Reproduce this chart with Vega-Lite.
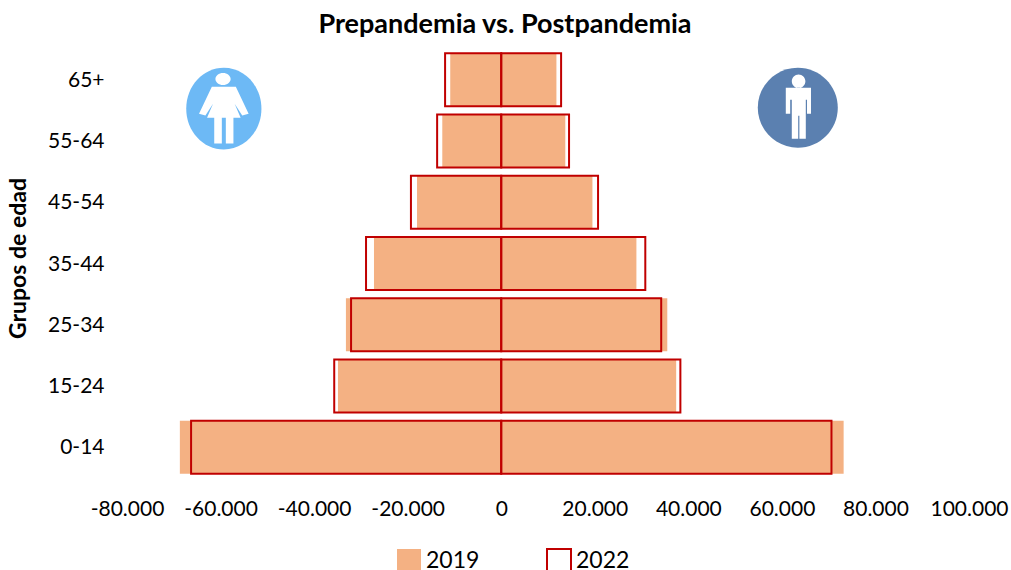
{"$schema":"https://vega.github.io/schema/vega-lite/v6.json","width":842,"height":429,"autosize":{"type":"none"},"padding":{"left":127,"top":49,"right":42,"bottom":92},"background":"white","config":{"view":{"stroke":null},"font":"Lato"},"title":{"text":"Prepandemia vs. Postpandemia","font":"Lato","fontSize":27,"fontWeight":"bold","color":"#000000","anchor":"middle","dx":-43,"offset":10},"layer":[{"data":{"values":[{"grupo":"0-14","anio":"2019","valor":-68700},{"grupo":"0-14","anio":"2019","valor":73200},{"grupo":"15-24","anio":"2019","valor":-34900},{"grupo":"15-24","anio":"2019","valor":37400},{"grupo":"25-34","anio":"2019","valor":-33200},{"grupo":"25-34","anio":"2019","valor":35500},{"grupo":"35-44","anio":"2019","valor":-27200},{"grupo":"35-44","anio":"2019","valor":28900},{"grupo":"45-54","anio":"2019","valor":-18000},{"grupo":"45-54","anio":"2019","valor":19500},{"grupo":"55-64","anio":"2019","valor":-12600},{"grupo":"55-64","anio":"2019","valor":13700},{"grupo":"65+","anio":"2019","valor":-10900},{"grupo":"65+","anio":"2019","valor":11800},{"grupo":"0-14","anio":"2022","valor":-66300},{"grupo":"0-14","anio":"2022","valor":70600},{"grupo":"15-24","anio":"2022","valor":-35700},{"grupo":"15-24","anio":"2022","valor":38300},{"grupo":"25-34","anio":"2022","valor":-32100},{"grupo":"25-34","anio":"2022","valor":34200},{"grupo":"35-44","anio":"2022","valor":-28900},{"grupo":"35-44","anio":"2022","valor":30800},{"grupo":"45-54","anio":"2022","valor":-19300},{"grupo":"45-54","anio":"2022","valor":20700},{"grupo":"55-64","anio":"2022","valor":-13700},{"grupo":"55-64","anio":"2022","valor":14500},{"grupo":"65+","anio":"2022","valor":-12000},{"grupo":"65+","anio":"2022","valor":12800}]},"mark":{"type":"bar","strokeWidth":2},"encoding":{"x":{"field":"valor","type":"quantitative","stack":null,"scale":{"domain":[-80000,100000],"nice":false,"zero":false},"axis":{"title":null,"values":[-80000,-60000,-40000,-20000,0,20000,40000,60000,80000,100000],"labelExpr":"replace(replace(format(datum.value,','),',','.'),'−','-')","grid":false,"domain":false,"ticks":false,"labelFont":"Lato","labelFontSize":21,"labelColor":"#000000","labelPadding":20,"labelFlush":false,"labelOverlap":false}},"y":{"field":"grupo","type":"nominal","sort":["65+","55-64","45-54","35-44","25-34","15-24","0-14"],"scale":{"domain":["65+","55-64","45-54","35-44","25-34","15-24","0-14"],"paddingInner":0.135,"paddingOuter":0.0675},"axis":{"title":"Grupos de edad","titleFont":"Lato","titleFontSize":23,"titleFontWeight":"bold","titleColor":"#000000","titleX":-97,"titleY":209,"grid":false,"domain":false,"ticks":false,"labelFont":"Lato","labelFontSize":21,"labelColor":"#000000","labelPadding":23,"labelOffset":1}},"fill":{"field":"anio","type":"nominal","scale":{"domain":["2019","2022"],"range":["#F4B183","transparent"]},"legend":{"title":null,"orient":"none","direction":"horizontal","legendX":269,"legendY":499,"symbolType":"square","symbolSize":576,"symbolStrokeWidth":2,"labelFont":"Lato","labelFontSize":23,"labelColor":"#000000","labelOffset":4,"columnPadding":63}},"stroke":{"field":"anio","type":"nominal","scale":{"domain":["2019","2022"],"range":["transparent","#C00000"]},"legend":{"title":null,"orient":"none","direction":"horizontal","legendX":269,"legendY":499,"symbolType":"square","symbolSize":576,"symbolStrokeWidth":2,"labelFont":"Lato","labelFontSize":23,"labelColor":"#000000","labelOffset":4,"columnPadding":63}}}},{"data":{"values":[{"grupo":"65+","valor":-59300}]},"mark":{"type":"point","filled":true,"opacity":1,"size":6400,"fill":"#6DB9F5","strokeWidth":0,"yOffset":29,"shape":"M-.94 0A.94 1.02 0 1 0 .94 0A.94 1.02 0 1 0 -.94 0Z"},"encoding":{"x":{"field":"valor","type":"quantitative"},"y":{"field":"grupo","type":"nominal"}}},{"data":{"values":[{"grupo":"65+","valor":-59300}]},"mark":{"type":"point","filled":true,"opacity":1,"size":6400,"fill":"#FFFFFF","strokeWidth":0,"yOffset":29,"shape":"M-.21 -.74A.19 .15 0 1 0 .17 -.74A.19 .15 0 1 0 -.21 -.74ZM-.3 -.55L.3 -.55L.62 .13L.46 .17L.27 -.12L.42 .23L.24 .23L.24 .87L.05 .87L.05 .23L-.05 .23L-.05 .87L-.24 .87L-.24 .23L-.42 .23L-.27 -.12L-.46 .17L-.62 .13Z"},"encoding":{"x":{"field":"valor","type":"quantitative"},"y":{"field":"grupo","type":"nominal"}}},{"data":{"values":[{"grupo":"65+","valor":63400}]},"mark":{"type":"point","filled":true,"opacity":1,"size":6400,"fill":"#5B80B0","strokeWidth":0,"yOffset":28,"shape":"M-1 0A1 1 0 1 0 1 0A1 1 0 1 0 -1 0Z"},"encoding":{"x":{"field":"valor","type":"quantitative"},"y":{"field":"grupo","type":"nominal"}}},{"data":{"values":[{"grupo":"65+","valor":63400}]},"mark":{"type":"point","filled":true,"opacity":1,"size":6400,"fill":"#FFFFFF","strokeWidth":0,"yOffset":28,"shape":"M-.15 -.66A.17 .17 0 1 0 .19 -.66A.17 .17 0 1 0 -.15 -.66ZM-.3 -.5L.33 -.5L.33 .15L.23 .15L.23 -.2L.2 -.2L.2 .78L.04 .78L.04 .2L.01 .2L.01 .78L-.15 .78L-.15 -.2L-.19 -.2L-.19 .15L-.3 .15Z"},"encoding":{"x":{"field":"valor","type":"quantitative"},"y":{"field":"grupo","type":"nominal"}}}]}
